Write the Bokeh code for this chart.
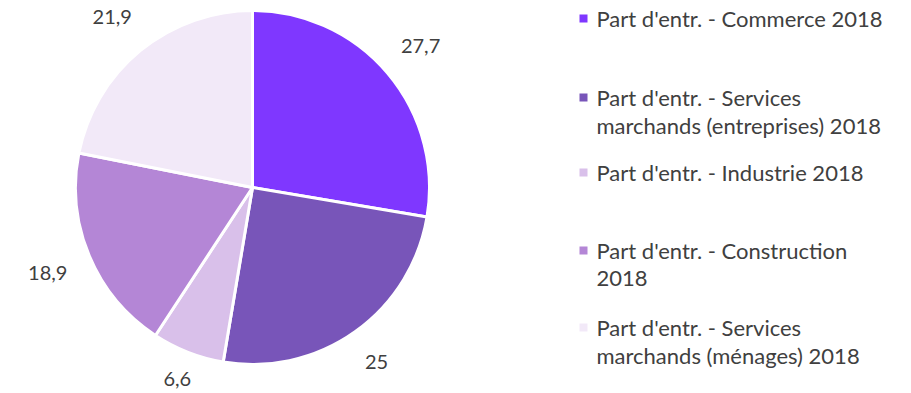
import math
from bokeh.plotting import figure
from bokeh.models import Range1d, ColumnDataSource
from bokeh.core.properties import value
from bokeh.embed import file_html
from bokeh.resources import INLINE

# Share of enterprises by sector, 2018 (%)
categories = [
    "Part d'entr. - Commerce 2018",
    "Part d'entr. - Services\nmarchands (entreprises) 2018",
    "Part d'entr. - Industrie 2018",
    "Part d'entr. - Construction\n2018",
    "Part d'entr. - Services\nmarchands (ménages) 2018",
]
shares = [27.7, 25, 6.6, 18.9, 21.9]
value_labels = ["27,7", "25", "6,6", "18,9", "21,9"]
colors = ["#7F37FF", "#7855B9", "#D9C0EA", "#B486D6", "#F2E9F8"]

W, H = 911, 393
CX, CY, R = 252, H - 187, 177
# distance of each value label from the pie centre
label_radius = [220, 214, 206, 222, 221]
FONT = "Lato"
TEXT_COLOR = "#404040"

total = sum(shares)
starts, ends, lx, ly = [], [], [], []
acc = 0.0
for v, lr in zip(shares, label_radius):
    a0 = math.pi / 2 - 2 * math.pi * acc / total
    a1 = math.pi / 2 - 2 * math.pi * (acc + v) / total
    mid = (a0 + a1) / 2
    starts.append(a0)
    ends.append(a1)
    lx.append(CX + lr * math.cos(mid))
    ly.append(CY + lr * math.sin(mid))
    acc += v

src = ColumnDataSource(dict(start=starts, end=ends, color=colors,
                            lx=lx, ly=ly, lab=value_labels))

p = figure(width=W, height=H, output_backend="svg", toolbar_location=None,
           x_range=Range1d(0, W), y_range=Range1d(0, H),
           min_border=0, outline_line_color=None)
p.axis.visible = False
p.grid.visible = False
p.background_fill_color = "white"
p.border_fill_color = "white"

p.wedge(x=CX, y=CY, radius=R, start_angle="start", end_angle="end",
        direction="clock", fill_color="color", line_color="white",
        line_width=3, source=src)

p.text(x="lx", y="ly", text="lab", source=src, text_align="center",
       text_baseline="middle", text_font=value(FONT),
       text_font_size="20px", text_color=TEXT_COLOR)

# Legend drawn as markers and wrapped text
entry_tops = [18, 97, 172, 250, 327]
line_gap = 28
mx = 583
tx = 596
for cat, col, top in zip(categories, colors, entry_tops):
    y0 = H - top
    p.scatter(x=[mx], y=[y0], marker="square", size=8,
              fill_color=col, line_color=None)
    for i, line in enumerate(cat.split("\n")):
        p.text(x=[tx], y=[y0 - i * line_gap], text=[line],
               text_align="left", text_baseline="middle",
               text_font=value(FONT), text_font_size="22px",
               text_color=TEXT_COLOR)

open("out.html", "w").write(file_html(p, INLINE))
